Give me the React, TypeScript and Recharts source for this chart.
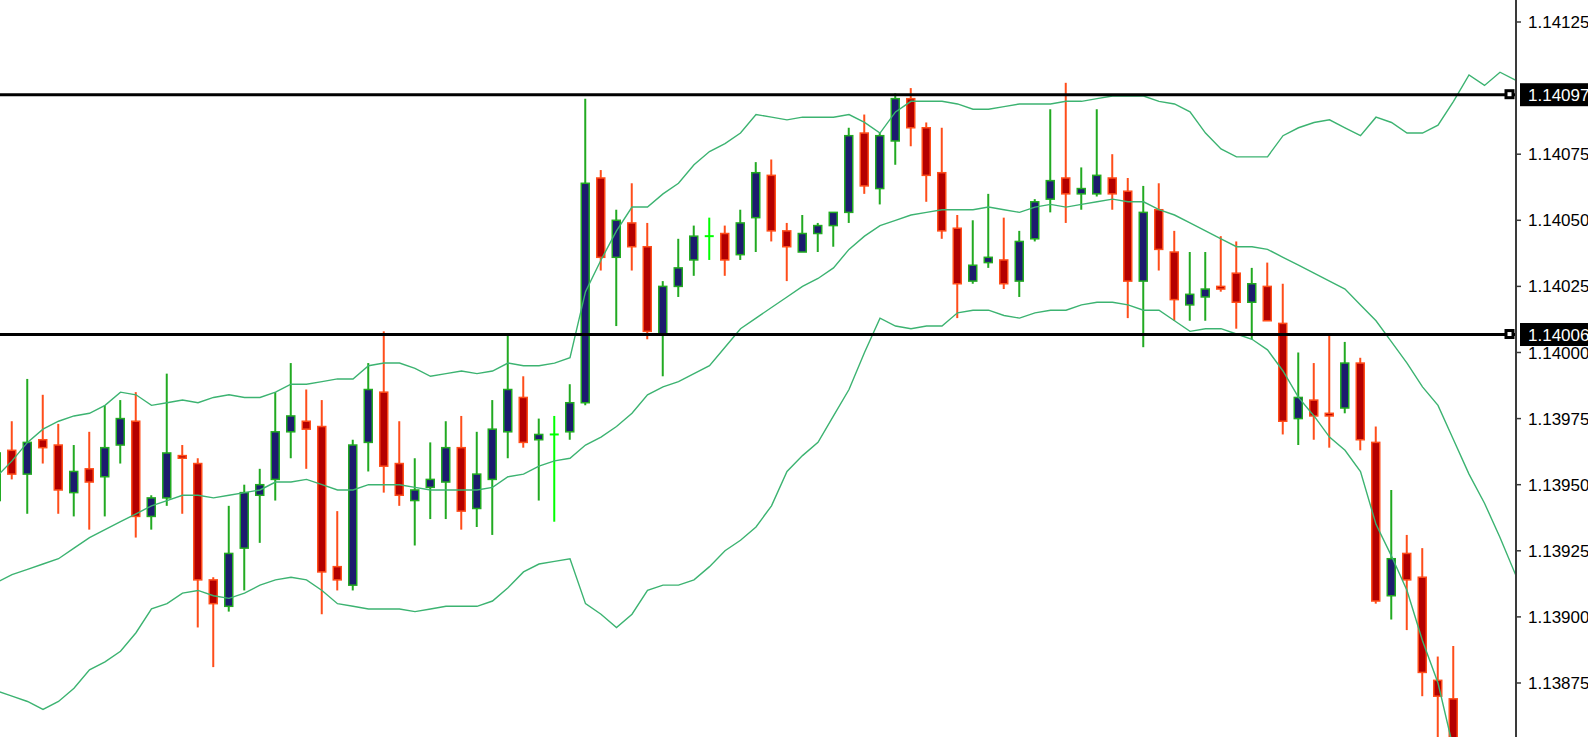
import { ComposedChart, Bar, Line, XAxis, YAxis, ReferenceLine } from "recharts";

// candle index of the first entry (partly hidden at the left edge)
const firstIndex = -1;

const opens = [
  1.13944, 1.13963, 1.13954, 1.13967, 1.13965, 1.13947, 1.13956, 1.13953, 1.13965, 1.13974,
  1.13938, 1.13945, 1.13961, 1.13958, 1.13914, 1.13904, 1.13926, 1.13946, 1.13952, 1.1397,
  1.13974, 1.13972, 1.13919, 1.13912, 1.13966, 1.13985, 1.13958, 1.13944, 1.13949, 1.13951,
  1.13964, 1.13941, 1.13952, 1.1397, 1.13983, 1.13967, 1.13969, 1.1397, 1.13981, 1.14066,
  1.14036, 1.14049, 1.1404, 1.14007, 1.14025, 1.14035, 1.14044, 1.14045, 1.14037, 1.14051,
  1.14067, 1.14046, 1.14038, 1.14045, 1.14048, 1.14053, 1.14083, 1.14062, 1.1408, 1.14096,
  1.14085, 1.14068, 1.14047, 1.14027, 1.14034, 1.14035, 1.14027, 1.14043, 1.14058, 1.14066,
  1.1406, 1.1406, 1.14066, 1.14061, 1.14027, 1.14054, 1.14038, 1.14018, 1.14021, 1.14025,
  1.1403, 1.14019, 1.14025, 1.14011, 1.13975, 1.13982, 1.13977, 1.13979, 1.13996, 1.13966,
  1.13908, 1.13924, 1.13915, 1.13876, 1.13869,
];

const highs = [
  1.13965, 1.13974, 1.1399, 1.13984, 1.13973, 1.13965, 1.1397, 1.1398, 1.13982, 1.13985,
  1.13946, 1.13992, 1.13965, 1.1396, 1.13915, 1.13942, 1.1395, 1.13956, 1.13985, 1.13996,
  1.13986, 1.13982, 1.1394, 1.13967, 1.13996, 1.14008, 1.13974, 1.1396, 1.13966, 1.13974,
  1.13976, 1.1397, 1.13982, 1.14007, 1.13991, 1.13975, 1.13976, 1.13988, 1.14096, 1.14069,
  1.14054, 1.14064, 1.14049, 1.14027, 1.14043, 1.14048, 1.14051, 1.14048, 1.14054, 1.14072,
  1.14073, 1.14049, 1.14052, 1.14049, 1.14053, 1.14085, 1.1409, 1.14083, 1.14098, 1.141,
  1.14087, 1.14085, 1.14052, 1.1405, 1.1406, 1.14051, 1.14046, 1.14058, 1.14092, 1.14102,
  1.1407, 1.14092, 1.14075, 1.14066, 1.14063, 1.14064, 1.14046, 1.14038, 1.14038, 1.14044,
  1.14042, 1.14032, 1.14034, 1.14026, 1.14, 1.13996, 1.14007, 1.14004, 1.13998, 1.13972,
  1.13948, 1.13931, 1.13926, 1.13885, 1.13889,
];

const lows = [
  1.13943, 1.13952, 1.13939, 1.13958, 1.13939, 1.13938, 1.13933, 1.13938, 1.13958, 1.1393,
  1.13933, 1.13942, 1.13939, 1.13896, 1.13881, 1.13902, 1.1391, 1.13928, 1.13944, 1.1396,
  1.13956, 1.13901, 1.1391, 1.1391, 1.13955, 1.13947, 1.13942, 1.13927, 1.13937, 1.13937,
  1.13933, 1.13934, 1.13931, 1.1396, 1.13964, 1.13944, 1.13936, 1.13967, 1.1398, 1.14031,
  1.1401, 1.14031, 1.14005, 1.13991, 1.14021, 1.14029, 1.14035, 1.14029, 1.14035, 1.14038,
  1.14042, 1.14027, 1.14038, 1.14038, 1.1404, 1.14049, 1.1406, 1.14056, 1.14071, 1.14078,
  1.14057, 1.14043, 1.14013, 1.14026, 1.14032, 1.14024, 1.14021, 1.14042, 1.14053, 1.14049,
  1.14054, 1.14059, 1.14054, 1.14013, 1.14002, 1.14031, 1.14012, 1.14012, 1.14012, 1.14023,
  1.14009, 1.14005, 1.14012, 1.13969, 1.13965, 1.13967, 1.13964, 1.13977, 1.13963, 1.13905,
  1.13899, 1.13895, 1.1387, 1.13852, 1.13835,
];

const closes = [
  1.13962, 1.13954, 1.13966, 1.13964, 1.13948, 1.13955, 1.13951, 1.13964, 1.13975, 1.13938,
  1.13945, 1.13962, 1.1396, 1.13914, 1.13905, 1.13924, 1.13947, 1.1395, 1.1397, 1.13976,
  1.13971, 1.13917, 1.13914, 1.13965, 1.13986, 1.13957, 1.13946, 1.13948, 1.13952, 1.13964,
  1.1394, 1.13954, 1.13971, 1.13986, 1.13966, 1.13969, 1.13969, 1.13981, 1.14064, 1.14036,
  1.1405, 1.1404, 1.14008, 1.14025, 1.14032, 1.14044, 1.14044, 1.14035, 1.14049, 1.14068,
  1.14046, 1.1404, 1.14045, 1.14048, 1.14053, 1.14082, 1.14063, 1.14082, 1.14096, 1.14085,
  1.14067, 1.14046, 1.14026, 1.14033, 1.14036, 1.14026, 1.14042, 1.14057, 1.14065, 1.1406,
  1.14062, 1.14067, 1.1406, 1.14027, 1.14053, 1.14039, 1.1402, 1.14022, 1.14024, 1.14024,
  1.14019, 1.14026, 1.14012, 1.13974, 1.13983, 1.13976, 1.13976, 1.13996, 1.13967, 1.13906,
  1.13922, 1.13914, 1.13879, 1.1387, 1.13842,
];

// Bollinger bands (run a few bars past the last visible candle)
const upperBand = [
  1.13953, 1.13959, 1.13966, 1.13971, 1.13974, 1.13976, 1.13977, 1.1398, 1.13985, 1.13984,
  1.1398, 1.13981, 1.13982, 1.13981, 1.13983, 1.13984, 1.13983, 1.13983, 1.13985, 1.13988,
  1.13988, 1.13989, 1.1399, 1.1399, 1.13995, 1.13996, 1.13996, 1.13994, 1.13991, 1.13992,
  1.13993, 1.13992, 1.13993, 1.13996, 1.13995, 1.13995, 1.13996, 1.13998, 1.14023, 1.14035,
  1.14046, 1.14055, 1.14055, 1.1406, 1.14064, 1.14071, 1.14076, 1.14079, 1.14083, 1.1409,
  1.14089, 1.14088, 1.14089, 1.14089, 1.14089, 1.1409, 1.14087, 1.14083, 1.14091, 1.14095,
  1.14095, 1.14095, 1.14094, 1.14092, 1.14092, 1.14093, 1.14094, 1.14094, 1.14094, 1.14095,
  1.14095, 1.14096, 1.14097, 1.14097, 1.14097, 1.14095, 1.14094, 1.14091, 1.14083, 1.14077,
  1.14074, 1.14074, 1.14074, 1.14082, 1.14085, 1.14087, 1.14088, 1.14085, 1.14082, 1.14089,
  1.14087, 1.14083, 1.14083, 1.14086, 1.14095, 1.14105, 1.14101, 1.14106, 1.14103,
];

const middleBand = [
  1.13913, 1.13916, 1.13918, 1.1392, 1.13922, 1.13926, 1.1393, 1.13933, 1.13936, 1.13939,
  1.13942, 1.13944, 1.13946, 1.13946, 1.13945, 1.13946, 1.13947, 1.13948, 1.13951, 1.13951,
  1.13952, 1.1395, 1.13948, 1.13948, 1.1395, 1.1395, 1.1395, 1.13949, 1.13948, 1.13948,
  1.13948, 1.13948, 1.13949, 1.13953, 1.13954, 1.13957, 1.13959, 1.1396, 1.13965, 1.13968,
  1.13972, 1.13977, 1.13984, 1.13987, 1.13989, 1.13992, 1.13995, 1.14002, 1.14009, 1.14013,
  1.14017, 1.14021, 1.14025, 1.14028, 1.14032, 1.14039, 1.14044, 1.14048, 1.1405, 1.14052,
  1.14053, 1.14054, 1.14054, 1.14054, 1.14055, 1.14054, 1.14053, 1.14055, 1.14056, 1.14055,
  1.14056, 1.14057, 1.14058, 1.14057, 1.14057, 1.14054, 1.14052, 1.14049, 1.14046, 1.14043,
  1.1404, 1.1404, 1.14039, 1.14036, 1.14033, 1.1403, 1.14027, 1.14024, 1.14018, 1.14012,
  1.14004, 1.13996, 1.13987, 1.1398, 1.13967, 1.13954, 1.13943, 1.1393, 1.13916,
];

const lowerBand = [
  1.13872, 1.1387, 1.13868, 1.13865, 1.13868, 1.13873, 1.1388, 1.13883, 1.13887, 1.13894,
  1.13903, 1.13905, 1.13909, 1.1391, 1.13908, 1.13907, 1.13909, 1.13912, 1.13914, 1.13915,
  1.13914, 1.1391, 1.13905, 1.13904, 1.13903, 1.13903, 1.13903, 1.13902, 1.13903, 1.13904,
  1.13904, 1.13904, 1.13906, 1.13911, 1.13917, 1.1392, 1.13921, 1.13922, 1.13905, 1.13901,
  1.13896, 1.13901, 1.1391, 1.13912, 1.13912, 1.13914, 1.13919, 1.13925, 1.13929, 1.13934,
  1.13942, 1.13955, 1.13961, 1.13966, 1.13976, 1.13986, 1.14, 1.14013, 1.1401, 1.14009,
  1.1401, 1.1401, 1.14015, 1.14016, 1.14016, 1.14014, 1.14013, 1.14015, 1.14016, 1.14016,
  1.14018, 1.14019, 1.14019, 1.14018, 1.14016, 1.14016, 1.14012, 1.14008, 1.14009, 1.14009,
  1.14007, 1.14005, 1.14001, 1.13993, 1.13983, 1.13976, 1.13968, 1.13963, 1.13955, 1.13935,
  1.13923, 1.1391, 1.13891, 1.13875, 1.1385, null, null, null, null,
];

const priceTicks = [
  1.13875, 1.139, 1.13925, 1.1395, 1.13975, 1.14, 1.14025, 1.1405, 1.14075, 1.14125,
];

// horizontal levels drawn on the chart
const levels = [1.140975, 1.140068];

const data = upperBand.map((u, k) => {
  const has = k < opens.length;
  return {
    i: k + firstIndex,
    range: has ? [lows[k], highs[k]] : null,
    open: has ? opens[k] : null,
    high: has ? highs[k] : null,
    low: has ? lows[k] : null,
    close: has ? closes[k] : null,
    upper: u,
    middle: middleBand[k],
    lower: lowerBand[k],
  };
});

const BULL_LINE = "#22aa22";
const BULL_FILL = "#1c1c6e";
const BEAR_LINE = "#ff4d1a";
const BEAR_FILL = "#b40000";
const DOJI = "#00ff00";
const BAND = "#3cb371";
const FONT = "Liberation Sans, Arial, sans-serif";

function Candle(props: any) {
  const { payload, width } = props;
  let { x, y, height } = props;
  if (!payload || payload.open == null || !height) return null;
  if (height < 0) {
    y = y + height;
    height = -height;
  }
  const { open, close, high, low } = payload;
  const cx = x + width / 2;
  const k = height / (high - low);
  const yOpen = y + (high - open) * k;
  const yClose = y + (high - close) * k;
  const doji = open === close;
  const bull = close > open;
  const line = doji ? DOJI : bull ? BULL_LINE : BEAR_LINE;
  const top = Math.min(yOpen, yClose);
  const bodyH = Math.max(Math.abs(yOpen - yClose), 1.5);
  return (
    <g>
      <line x1={cx} x2={cx} y1={y} y2={y + height} stroke={line} strokeWidth={2} />
      {doji ? (
        <line x1={cx - 4.5} x2={cx + 4.5} y1={yOpen} y2={yOpen} stroke={line} strokeWidth={2} />
      ) : (
        <rect
          x={cx - 4}
          y={top}
          width={8}
          height={bodyH}
          fill={bull ? BULL_FILL : BEAR_FILL}
          stroke={line}
          strokeWidth={1.5}
        />
      )}
    </g>
  );
}

function LevelTag(props: any) {
  const vb = props.viewBox || {};
  const x = vb.x || 0;
  const y = vb.y || 0;
  const right = x + (vb.width || 0);
  const text = (Math.floor(props.level * 1e5 + 1e-6) / 1e5).toFixed(5);
  return (
    <g>
      <rect x={right - 10} y={y - 4} width={7} height={7} fill="#fff" stroke="#000" strokeWidth={3} />
      <rect x={right + 4} y={y - 11.5} width={80} height={23} fill="#000" />
      <text x={right + 12} y={y} dy="0.36em" fill="#fff" fontSize={17} fontFamily={FONT}>
        {text}
      </text>
    </g>
  );
}

export default function App() {
  return (
    <div
      style={{
        position: "absolute",
        left: 0,
        top: 0,
        width: 1588,
        height: 737,
        background: "#fff",
        overflow: "hidden",
      }}
    >
      <ComposedChart
        width={1588}
        height={737}
        data={data}
        margin={{ top: 0, right: 0, bottom: 0, left: 0 }}
      >
        <XAxis
          dataKey="i"
          type="number"
          domain={[-0.7742, 97.032]}
          allowDataOverflow
          hide
          height={0}
        />
        <YAxis
          orientation="right"
          type="number"
          width={72}
          domain={[1.1385457, 1.1413332]}
          allowDataOverflow
          ticks={priceTicks}
          interval={0}
          tickFormatter={(v: number) => v.toFixed(5)}
          tick={{ fontSize: 17, fill: "#000", fontFamily: FONT }}
          tickSize={5}
          tickMargin={7}
          axisLine={{ stroke: "#3a3a3a", strokeWidth: 2 }}
          tickLine={{ stroke: "#3a3a3a", strokeWidth: 1.5 }}
        />
        <Bar dataKey="range" barSize={9} shape={Candle} isAnimationActive={false} />
        <Line dataKey="upper" stroke={BAND} strokeWidth={1.4} dot={false} activeDot={false} isAnimationActive={false} />
        <Line dataKey="middle" stroke={BAND} strokeWidth={1.4} dot={false} activeDot={false} isAnimationActive={false} />
        <Line dataKey="lower" stroke={BAND} strokeWidth={1.4} dot={false} activeDot={false} isAnimationActive={false} />
        {levels.map((lvl) => (
          <ReferenceLine
            key={lvl}
            y={lvl}
            stroke="#000"
            strokeWidth={3}
            label={(p: any) => <LevelTag {...p} level={lvl} />}
          />
        ))}
      </ComposedChart>
    </div>
  );
}
